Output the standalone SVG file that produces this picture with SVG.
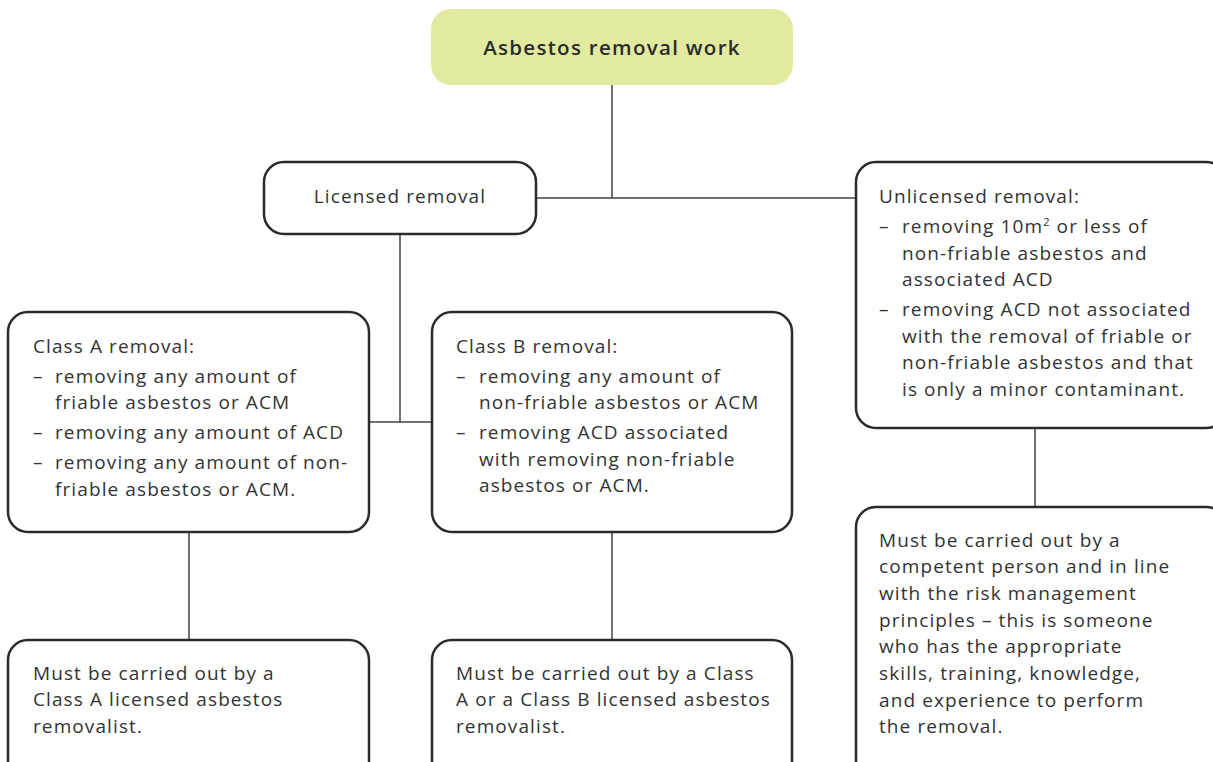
<svg xmlns="http://www.w3.org/2000/svg" width="1213" height="762" viewBox="0 0 1213 762">
<style>
.box{fill:#fff;stroke:#2b2b2b;stroke-width:2.5}
.top{fill:#e2ea9f;stroke:none}
.t{font-family:"Open Sans","Liberation Sans",sans-serif;font-size:19px;letter-spacing:1.1px;fill:#333}
.h{font-family:"Open Sans","Liberation Sans",sans-serif;font-size:20.5px;font-weight:600;letter-spacing:1.3px;fill:#2b2b2b}
.c{fill:none;stroke:#444;stroke-width:1.5}
</style>
<g id="connectors">
<path class="c" d="M612 85V198M536 198H856"/>
<path class="c" d="M400 234V422M368 422H432"/>
<path class="c" d="M189 532V640M612 532V640"/>
<path class="c" d="M1035 428V507"/>
</g>
<g id="n-top">
<rect class="top" x="431" y="9" width="362" height="76" rx="20"/>
<text class="h" x="612" y="55" text-anchor="middle">Asbestos removal work</text>
</g>
<g id="n-licensed">
<rect class="box" x="264" y="162" width="272" height="72" rx="20"/>
<text class="t" x="400" y="203" text-anchor="middle">Licensed removal</text>
</g>
<g id="n-unlicensed">
<rect class="box" x="856" y="162" width="370" height="266" rx="20"/>
<text class="t" x="879" y="203">Unlicensed removal:</text>
<text class="t" x="879" y="233">–</text>
<text class="t" x="902" y="233">removing 10m<tspan font-size="11" dy="-7">2</tspan><tspan dy="7"> or less of</tspan></text>
<text class="t" x="902" y="260">non-friable asbestos and</text>
<text class="t" x="902" y="286">associated ACD</text>
<text class="t" x="879" y="316">–</text>
<text class="t" x="902" y="316">removing ACD not associated</text>
<text class="t" x="902" y="343">with the removal of friable or</text>
<text class="t" x="902" y="369">non-friable asbestos and that</text>
<text class="t" x="902" y="396">is only a minor contaminant.</text>
</g>
<g id="n-classA">
<rect class="box" x="8" y="312" width="361" height="220" rx="20"/>
<text class="t" x="33" y="353">Class A removal:</text>
<text class="t" x="33" y="383">–</text>
<text class="t" x="55" y="383">removing any amount of</text>
<text class="t" x="55" y="409">friable asbestos or ACM</text>
<text class="t" x="33" y="439">–</text>
<text class="t" x="55" y="439">removing any amount of ACD</text>
<text class="t" x="33" y="469">–</text>
<text class="t" x="55" y="469">removing any amount of non-</text>
<text class="t" x="55" y="496">friable asbestos or ACM.</text>
</g>
<g id="n-classB">
<rect class="box" x="432" y="312" width="360" height="220" rx="20"/>
<text class="t" x="456" y="353">Class B removal:</text>
<text class="t" x="456" y="383">–</text>
<text class="t" x="479" y="383">removing any amount of</text>
<text class="t" x="479" y="409">non-friable asbestos or ACM</text>
<text class="t" x="456" y="439">–</text>
<text class="t" x="479" y="439">removing ACD associated</text>
<text class="t" x="479" y="466">with removing non-friable</text>
<text class="t" x="479" y="492">asbestos or ACM.</text>
</g>
<g id="n-classA-who">
<rect class="box" x="8" y="640" width="361" height="150" rx="20"/>
<text class="t" x="33" y="680">Must be carried out by a</text>
<text class="t" x="33" y="706">Class A licensed asbestos</text>
<text class="t" x="33" y="733">removalist.</text>
</g>
<g id="n-classB-who">
<rect class="box" x="432" y="640" width="360" height="150" rx="20"/>
<text class="t" x="456" y="680">Must be carried out by a Class</text>
<text class="t" x="456" y="706">A or a Class B licensed asbestos</text>
<text class="t" x="456" y="733">removalist.</text>
</g>
<g id="n-unlicensed-who">
<rect class="box" x="856" y="507" width="370" height="290" rx="20"/>
<text class="t" x="879" y="547">Must be carried out by a</text>
<text class="t" x="879" y="573">competent person and in line</text>
<text class="t" x="879" y="600">with the risk management</text>
<text class="t" x="879" y="627">principles – this is someone</text>
<text class="t" x="879" y="653">who has the appropriate</text>
<text class="t" x="879" y="680">skills, training, knowledge,</text>
<text class="t" x="879" y="707">and experience to perform</text>
<text class="t" x="879" y="733">the removal.</text>
</g>
</svg>
